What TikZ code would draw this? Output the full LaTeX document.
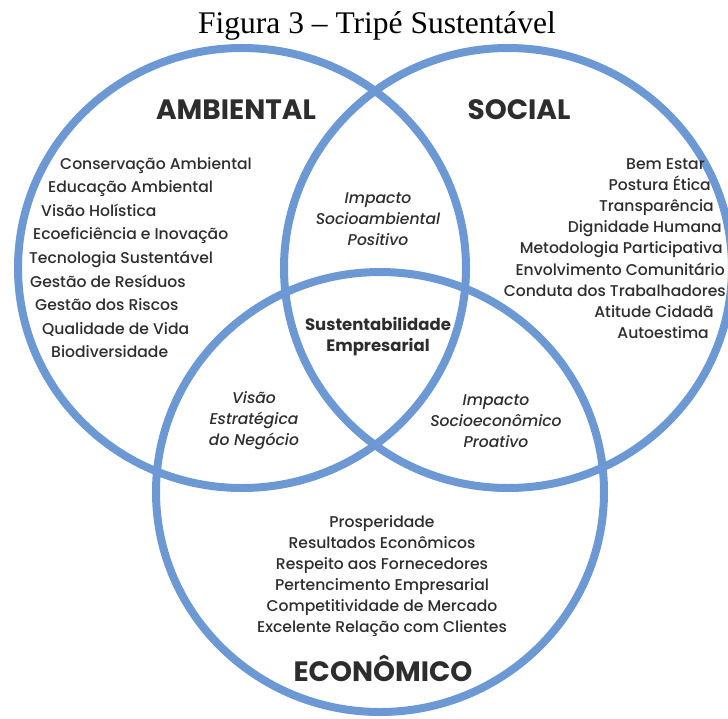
\documentclass[tikz,border=0pt]{standalone}
\usepackage{fontspec}
\setmainfont{Liberation Serif}
\newfontfamily\gothic{Poppins}[UprightFont=* Medium, ItalicFont=* Medium Italic, BoldFont=* Bold]
\definecolor{ringblue}{RGB}{108,152,212}
\definecolor{inkgray}{RGB}{45,45,45}

\tikzset{
  ring/.style={draw=ringblue, line width=8pt},
  pillar/.style={font=\gothic\bfseries\fontsize{28}{30}\selectfont, text=inkgray},
  topic/.style={font=\gothic\fontsize{15.6}{21}\selectfont, text=inkgray, inner sep=0pt},
  overlap/.style={font=\gothic\itshape\fontsize{15.6}{21}\selectfont, text=inkgray, align=center, inner sep=0pt},
  core/.style={font=\gothic\bfseries\fontsize{16.5}{21}\selectfont, text=inkgray, align=center, inner sep=0pt}
}

\begin{document}
\begin{tikzpicture}[x=1pt, y=-1pt]
  \useasboundingbox (0,0) rectangle (728,718);

  \draw [ring] (242,268) ellipse [x radius=224pt, y radius=220pt];
  \draw [ring] (508,268) ellipse [x radius=224pt, y radius=220pt];
  \draw [ring] (380,492) ellipse [x radius=224pt, y radius=220pt];

  \node [font=\fontsize{31.5}{33}\selectfont, anchor=base] (title) at (377,33) {Figura 3 – Tripé Sustentável};

  \node [pillar] (amb) at (236,110) {AMBIENTAL};
  \node [pillar] (soc) at (519,110) {SOCIAL};
  \node [pillar] (eco) at (383,668) {ECONÔMICO};

  \foreach \x/\y/\t [count=\i] in {
    60/169/Conservação Ambiental, 48/192.6/Educação Ambiental,
    41/216.2/Visão Holística, 33/239.8/Ecoeficiência e Inovação,
    29/263.4/Tecnologia Sustentável, 30/287/Gestão de Resíduos,
    35/310.6/Gestão dos Riscos, 42/334.2/Qualidade de Vida,
    51/357.8/Biodiversidade}
    \node [topic, anchor=base west] (amb\i) at (\x,\y) {\t};

  \foreach \x/\y/\t [count=\i] in {
    705/169/Bem Estar, 711/190.2/Postura Ética,
    714/211.4/Transparência, 722/232.6/Dignidade Humana,
    723/253.8/Metodologia Participativa, 725/275/Envolvimento Comunitário,
    726/296.2/Conduta dos Trabalhadores, 714/317.4/Atitude Cidadã,
    709/338.6/Autoestima}
    \node [topic, anchor=base east] (soc\i) at (\x,\y) {\t};

  \foreach \y/\t [count=\i] in {
    527/Prosperidade, 548/Resultados Econômicos,
    569/Respeito aos Fornecedores, 590/Pertencimento Empresarial,
    611/Competitividade de Mercado, 632/Excelente Relação com Clientes}
    \node [topic, anchor=base] (eco\i) at (382,\y) {\t};

  \node [overlap] (ambsoc) at (378,219) {Impacto\\Socioambiental\\Positivo};
  \node [overlap] (ambeco) at (254,421) {Visão\\Estratégica\\do Negócio};
  \node [overlap] (soceco) at (496,421) {Impacto\\Socioeconômico\\Proativo};
  \node [core] (sust) at (378,337) {Sustentabilidade\\Empresarial};
\end{tikzpicture}
\end{document}
